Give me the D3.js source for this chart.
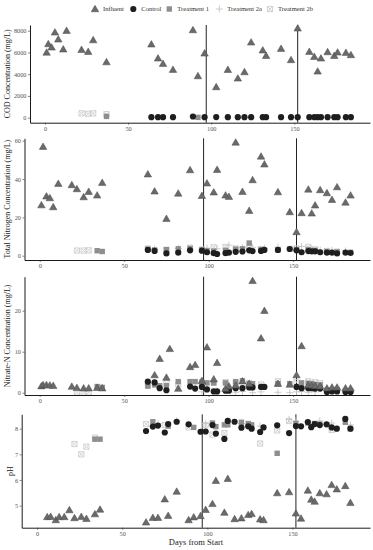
<!DOCTYPE html>
<html><head><meta charset="utf-8">
<script src="https://cdnjs.cloudflare.com/ajax/libs/d3/7.8.5/d3.min.js"></script>
<style>body{margin:0;background:#fff}svg{display:block;font-family:"Liberation Serif",serif}</style>
</head><body><script>
// groups and phase boundaries
var groups=["Influent","Control","Treatment 1","Treatment 2a","Treatment 2b"]
var phaseDays=[97,152]
var xTicks=[0,50,100,150]

// COD (mg/L)
var codInfDay=[1,2,4,6,8,11,13,22,26,29,37,64,68,71,77,89,92,96,103,110,116,120,124,131,133,142,148,152,159,162,164,166,170,174,176,181,184]
var codInf=[6000,6780,6470,7850,7210,6290,8000,6250,6070,7140,5120,6750,5460,4970,4420,8060,3830,5920,2820,4410,3620,4200,6930,6200,5700,6350,5310,8220,6070,5610,4260,5460,6040,5700,6010,5980,5770]
var codCtlDay=[64,68,71,77,89,96,103,110,116,120,124,131,133,142,148,152,159,162,164,166,170,174,176,181,184]
var codCtl=[50,50,50,50,110,50,60,50,50,50,50,50,50,50,50,50,50,50,50,50,50,50,50,50,50]
var codT1Day=[37,92]
var codT1=[120,30]
var codT2aDay=[]
var codT2a=[]
var codT2bDay=[22,26,29,37]
var codT2b=[400,360,400,330]

// Total nitrogen (mg/L)
var tnInfDay=[1,2,4,6,8,11,19,22,26,29,34,37,64,68,75,82,89,96,99,103,105,110,112,116,120,124,126,131,133,141,148,152,155,159,161,163,166,170,173,176,181,184]
var tnInf=[26.4,56.9,31,30.1,25.4,37.6,36.9,34.8,30.6,33.4,31.5,38.1,42.5,33.6,19.3,32.5,44.7,31.3,37.8,33.1,44.9,31.5,30.8,59.1,33.4,23.5,39.5,51.8,47.7,33.2,22.8,12.4,22.3,34.6,22.1,26.3,34.3,32.7,29.2,35.8,27.8,31.5]
var tnCtlDay=[64,68,75,82,89,96,99,103,105,110,112,116,120,124,126,131,133,141,148,152,155,159,161,163,166,170,173,176,181,184]
var tnCtl=[3.0,2.5,1.2,1.6,2.8,2.6,1.8,1.3,0.9,1.3,1.6,2.0,2.2,2.8,2.4,2.5,3.0,3.0,3.5,2.8,1.8,2.4,2.3,2.3,1.8,1.6,1.6,1.2,1.6,1.4]
var tnT1Day=[34,37,64,68,75,82,89,96,99,103,110,116,120,124,131,141,152,159,163,170,176,184]
var tnT1=[2.6,2.2,3.4,3.0,3.2,3.6,3.8,3.0,2.6,2.4,2.8,3.4,3.6,6.6,3.2,3.0,3.2,3.2,2.8,2.2,2.0,1.8]
var tnT2aDay=[68,82,99,105,112,120,126,133,141,155,161,166,173,181]
var tnT2a=[3.5,3.8,4.0,3.6,5.5,4.2,4.4,3.9,4.5,4.8,3.6,3.0,2.8,2.5]
var tnT2bDay=[22,26,29,64,75,89,96,103,110,116,124,131,148,152,159,163,170,176]
var tnT2b=[2.7,2.7,2.8,3.8,3.0,4.2,3.2,4.4,4.6,3.8,4.0,3.4,3.6,3.8,4.6,3.3,2.5,2.2]

// Nitrate-N (mg/L)
var noInfDay=[1,2,4,6,8,19,22,26,29,34,37,68,71,75,77,82,89,92,96,99,103,105,110,112,116,120,124,126,131,133,141,148,152,155,159,161,163,166,170,173,176,181,184]
var noInf=[1.6,1.9,1.9,1.8,1.7,1.5,1.2,1.1,1.1,1.2,1.1,4.3,8.3,3.7,10.7,1.0,6.3,6.8,2.9,11.1,3.3,7.3,1.0,1.6,1.8,2.8,2.2,27.3,13.3,20.0,2.2,2.0,4.3,11.4,1.9,1.8,1.7,1.6,1.1,1.3,1.3,1.1,1.1]
var noCtlDay=[64,68,71,75,89,92,96,99,103,105,110,112,116,120,124,126,131,133,152,155,159,161,163,166,170,173,176,181,184]
var noCtl=[2.7,2.5,1.1,0.6,1.5,1.0,1.4,0.8,0.3,0.3,0.5,0.5,1.1,1.1,1.3,1.3,1.4,1.4,1.4,1.1,1.1,1.1,1.0,1.0,0.2,0.3,0.3,0.2,0.2]
var noT1Day=[34,37,64,68,71,75,82,89,92,96,99,103,110,116,120,124,126,141,148,155,159,161,163,166,170,173,176,181,184]
var noT1=[1.5,1.3,1.6,1.9,1.7,1.7,2.7,2.7,2.7,2.6,2.4,2.4,2.4,2.7,2.9,2.2,2.2,2.2,2.2,2.4,2.3,2.2,2.0,1.9,0.6,0.7,0.8,0.5,0.5]
var noT2aDay=[96,99,105,116,120,126,131,141,148,152,155,159,163]
var noT2a=[0.2,1.0,0.4,0.1,0.3,0.0,0.2,0.1,0.0,0.2,0.3,0.1,0.2]
var noT2bDay=[22,26,29,64,75,82,96,103,110,116,124,131,141,152,159,163,166]
var noT2b=[0.1,0.1,0.1,2.0,2.3,2.0,2.2,2.4,2.6,2.4,2.4,2.0,2.8,2.6,2.8,2.6,2.3]

// pH
var phInfDay=[6,8,11,13,16,19,22,26,29,34,37,64,68,71,75,77,82,89,92,96,99,103,105,110,112,116,120,124,126,131,133,141,148,152,155,159,161,163,166,170,173,176,181,184]
var phInf=[4.56,4.57,4.44,4.56,4.56,4.83,4.52,4.57,4.49,4.67,4.85,4.35,4.53,4.53,5.25,4.61,5.55,4.44,4.55,4.60,4.84,5.07,5.97,4.73,6.05,4.48,4.51,4.64,4.68,4.47,4.44,5.49,5.53,4.70,4.50,5.59,5.24,5.16,5.49,5.45,5.81,5.64,5.77,5.11]
var phCtlDay=[64,68,71,75,77,82,89,96,99,103,105,110,112,116,120,124,126,131,133,141,148,152,155,159,161,163,166,170,173,176,181,184]
var phCtl=[7.91,8.08,8.12,7.85,8.18,8.27,8.17,7.88,7.89,8.14,7.81,7.60,8.30,8.27,8.04,8.09,8.00,7.87,8.05,8.13,7.83,8.10,8.09,8.26,8.06,8.18,8.14,8.17,8.05,8.00,8.38,8.00]
var phT1Day=[34,37,68,77,92,103,105,110,112,120,124,126,141,152,159,163,166,181]
var phT1=[7.59,7.59,8.27,8.10,8.05,8.22,8.08,8.15,8.15,8.25,8.20,8.15,7.04,8.20,8.22,8.20,8.18,8.25]
var phT2aDay=[71,82,99,112,120,131,148,152,159,166,173,184]
var phT2a=[8.20,8.30,8.20,8.30,8.20,8.10,8.36,8.30,8.25,8.30,8.22,8.15]
var phT2bDay=[22,26,29,34,64,75,89,99,103,110,131,141,148,173,184]
var phT2b=[7.40,7.00,7.30,7.65,8.18,8.14,8.05,8.14,7.77,7.83,7.42,7.93,8.30,7.95,8.00]

var codTicks=[0,2000,4000,6000,8000], tnTicks=[0,20,40,60], noTicks=[0,10,20], phTicks=[5,6,7,8]

var zip=function(days,vals){return days.map(function(d,i){return {day:d,v:vals[i]}})}

var W=373,H=550,right=370
var svg=d3.select("body").append("svg").attr("width",W).attr("height",H)

// marker drawing
var drawMark=function(g,type){
  if(type==0){
    g.append("path").attr("d",d3.symbol(d3.symbolTriangle,24)()).attr("transform","translate(0,0.6)")
     .attr("fill","#6a6a6a").attr("stroke","#4a4a4a").attr("stroke-width",0.5)
  }else if(type==1){
    g.append("circle").attr("r",3.1).attr("fill","#1e1e1e")
  }else if(type==2){
    g.append("rect").attr("x",-2.7).attr("y",-2.7).attr("width",5.4).attr("height",5.4).attr("fill","#8e8e8e")
  }else if(type==3){
    g.append("path").attr("d","M-3.5,0H3.5M0,-3.5V3.5").attr("stroke","#c6c6c6").attr("stroke-width",0.9).attr("fill","none")
  }else{
    g.append("path").attr("d","M-2.6,-2.6H2.6V2.6H-2.6ZM-2.6,-2.6L2.6,2.6M2.6,-2.6L-2.6,2.6")
     .attr("stroke","#cdcdcd").attr("stroke-width",0.9).attr("fill","none")
  }
}

// legend
var legX=[95,133.3,169.3,219.3,270]
var leg=svg.append("g")
groups.forEach(function(name,i){
  var g=leg.append("g").attr("transform","translate("+legX[i]+",9)")
  drawMark(g,i)
  g.append("text").attr("x",8).attr("y",2.3).attr("font-size",6.6).attr("fill","#333").text(name)
})

var drawPanel=function(p){
  var x=d3.scaleLinear().domain([-9,195.5]).range([p.left,right])
  var y=d3.scaleLinear().domain(p.yDomain).range([p.bottom,p.top])
  var panel=svg.append("g")
  // phase lines
  panel.selectAll(".phase").data(phaseDays).enter().append("line")
    .attr("x1",function(d){return x(d)}).attr("x2",function(d){return x(d)})
    .attr("y1",p.top).attr("y2",p.bottom).attr("stroke","#222").attr("stroke-width",1)
  // points, back to front
  var order=[4,3,2,1,0]
  order.forEach(function(k){
    panel.append("g").selectAll("g").data(p.series[k]).enter().append("g")
      .attr("transform",function(d){return "translate("+x(d.day)+","+y(d.v)+")"})
      .each(function(){drawMark(d3.select(this),k)})
  })
  var xAxis=d3.axisBottom(x).tickValues(xTicks).tickFormat(d3.format("d")).tickSize(2).tickSizeOuter(0).tickPadding(1.5)
  var yAxis=d3.axisLeft(y).tickValues(p.ticks).tickFormat(d3.format("d")).tickSize(2).tickSizeOuter(0).tickPadding(1.5)
  var ax=panel.append("g").attr("transform","translate(0,"+p.bottom+")").call(xAxis)
  var ay=panel.append("g").attr("transform","translate("+p.left+",0)").call(yAxis)
  ;[ax,ay].forEach(function(a){
    a.select(".domain").attr("stroke","#000").attr("stroke-width",0.9)
    a.selectAll(".tick line").attr("stroke","#333").attr("stroke-width",0.6)
    a.selectAll(".tick text").attr("font-family","Liberation Serif, serif").attr("font-size",6.3).attr("fill","#555")
  })
  panel.append("text").attr("transform","translate("+p.titleX+","+((p.top+p.bottom)/2)+") rotate(-90)")
    .attr("text-anchor","middle").attr("font-size",8).attr("fill","#222").text(p.title)
}

drawPanel({left:30,top:25,bottom:122.7,yDomain:[-460,8524],ticks:codTicks,titleX:10,title:"COD Concentration (mg/L)",
  series:[zip(codInfDay,codInf),zip(codCtlDay,codCtl),zip(codT1Day,codT1),zip(codT2aDay,codT2a),zip(codT2bDay,codT2b)]})
drawPanel({left:24.5,top:138.3,bottom:260,yDomain:[-2.24,61.25],ticks:tnTicks,titleX:9.5,title:"Total Nitrogen Concentration (mg/L)",
  series:[zip(tnInfDay,tnInf),zip(tnCtlDay,tnCtl),zip(tnT1Day,tnT1),zip(tnT2aDay,tnT2a),zip(tnT2bDay,tnT2b)]})
drawPanel({left:24.5,top:276.7,bottom:395,yDomain:[-0.56,28.3],ticks:noTicks,titleX:10,title:"Nitrate-N Concentration (mg/L)",
  series:[zip(noInfDay,noInf),zip(noCtlDay,noCtl),zip(noT1Day,noT1),zip(noT2aDay,noT2a),zip(noT2bDay,noT2b)]})
drawPanel({left:21.7,top:414.3,bottom:527.7,yDomain:[4.14,8.56],ticks:phTicks,titleX:13,title:"pH",
  series:[zip(phInfDay,phInf),zip(phCtlDay,phCtl),zip(phT1Day,phT1),zip(phT2aDay,phT2a),zip(phT2bDay,phT2b)]})

svg.append("text").attr("x",196).attr("y",544.5).attr("text-anchor","middle").attr("font-size",8.5).attr("fill","#222").text("Days from Start")
</script></body></html>
